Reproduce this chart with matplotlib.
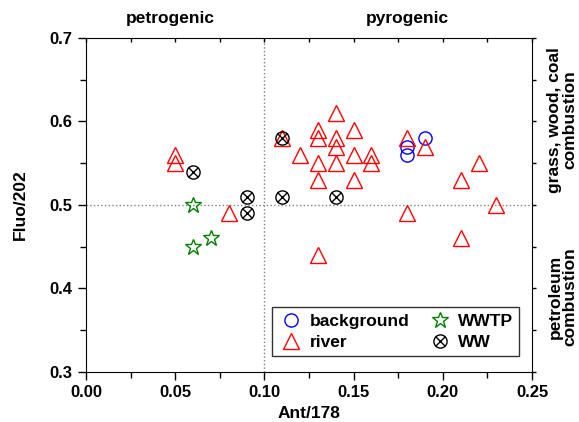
import matplotlib
matplotlib.use('Agg')
from matplotlib import pyplot as plt
from matplotlib.ticker import MultipleLocator

plt.rcParams['font.family'] = ['Liberation Sans', 'DejaVu Sans']
plt.rcParams['font.weight'] = 'bold'

# Data
bg_x = [0.18, 0.18, 0.19]
bg_y = [0.56, 0.57, 0.58]

river_x = [0.05, 0.05, 0.08, 0.11, 0.12, 0.13, 0.13, 0.13, 0.13, 0.13,
           0.14, 0.14, 0.14, 0.14, 0.15, 0.15, 0.15, 0.16, 0.16,
           0.18, 0.18, 0.19, 0.21, 0.21, 0.22, 0.23]
river_y = [0.56, 0.55, 0.49, 0.58, 0.56, 0.59, 0.58, 0.55, 0.53, 0.44,
           0.61, 0.58, 0.57, 0.55, 0.59, 0.56, 0.53, 0.56, 0.55,
           0.58, 0.49, 0.57, 0.53, 0.46, 0.55, 0.50]

wwtp_x = [0.06, 0.06, 0.07]
wwtp_y = [0.50, 0.45, 0.46]

ww_x = [0.06, 0.09, 0.09, 0.11, 0.11, 0.14]
ww_y = [0.54, 0.51, 0.49, 0.58, 0.51, 0.51]

fig = plt.figure(figsize=(5.79, 4.22), dpi=100)
ax = fig.add_axes([0.1485, 0.1185, 0.7705, 0.7915])

# split lines
ax.axvline(0.10, color='gray', linestyle=':', linewidth=1, zorder=1)
ax.axhline(0.50, color='gray', linestyle=':', linewidth=1, zorder=1)

hb, = ax.plot(bg_x, bg_y, linestyle='none', marker='o', ms=9.5,
              mfc='none', mec='blue', mew=1, label='background')
hr, = ax.plot(river_x, river_y, linestyle='none', marker='^', ms=11,
              mfc='none', mec='red', mew=1, label='river')
hs, = ax.plot(wwtp_x, wwtp_y, linestyle='none', marker='*', ms=12,
              mfc='none', mec='green', mew=1, label='WWTP')
hwo, = ax.plot(ww_x, ww_y, linestyle='none', marker='o', ms=9.5,
               mfc='none', mec='black', mew=1)
hwx, = ax.plot(ww_x, ww_y, linestyle='none', marker='x', ms=6.5,
               mec='black', mew=1)

ax.set_xlim(0.0, 0.25)
ax.set_ylim(0.3, 0.7)
ax.xaxis.set_major_locator(MultipleLocator(0.05))
ax.xaxis.set_minor_locator(MultipleLocator(0.025))
ax.yaxis.set_major_locator(MultipleLocator(0.1))
ax.yaxis.set_minor_locator(MultipleLocator(0.05))
ax.xaxis.set_major_formatter(plt.FuncFormatter(lambda v, p: '%.2f' % v))
ax.yaxis.set_major_formatter(plt.FuncFormatter(lambda v, p: '%.1f' % v))
ax.tick_params(which='both', direction='out', labelsize=12, width=1)
ax.tick_params(which='major', length=6)
ax.tick_params(which='minor', length=4)
ax.tick_params(which='both', top=True, right=True)
# top ticks point inward, right ticks outward (short)
for t in ax.xaxis.get_major_ticks() + ax.xaxis.get_minor_ticks():
    t.tick2line.set_marker(3)  # TICKDOWN on top spine
    t.tick2line.set_markersize(3)
for t in ax.yaxis.get_major_ticks() + ax.yaxis.get_minor_ticks():
    t.tick2line.set_markersize(3)
for lab in ax.get_xticklabels() + ax.get_yticklabels():
    lab.set_fontweight('bold')

ax.set_xlabel('Ant/178', fontsize=12.5, fontweight='bold', labelpad=4)
ax.set_ylabel('Fluo/202', fontsize=12.5, fontweight='bold', labelpad=16)

ax.text(0.047, 0.714, 'petrogenic', fontsize=12.5, fontweight='bold',
        ha='center', va='bottom')
ax.text(0.18, 0.714, 'pyrogenic', fontsize=12.5, fontweight='bold',
        ha='center', va='bottom')
ax.text(1.068, 0.755, 'grass, wood, coal\ncombustion', transform=ax.transAxes,
        rotation=90, fontsize=12.5, fontweight='bold', ha='center', va='center',
        multialignment='center', linespacing=1.0)
ax.text(1.068, 0.225, 'petroleum\ncombustion', transform=ax.transAxes,
        rotation=90, fontsize=12.5, fontweight='bold', ha='center', va='center',
        multialignment='center', linespacing=1.0)

leg = ax.legend([hb, hr, hs, (hwo, hwx)], ['background', 'river', 'WWTP', 'WW'],
                ncol=2, loc='lower right', bbox_to_anchor=(0.971, 0.048),
                borderaxespad=0, prop={'weight': 'bold', 'size': 12.5},
                fancybox=False, edgecolor='black', handletextpad=0.3,
                columnspacing=1.0, labelspacing=0.35, borderpad=0.35,
                handlelength=1.5)
leg.get_frame().set_linewidth(1)

fig.savefig('out.png', dpi=100)
